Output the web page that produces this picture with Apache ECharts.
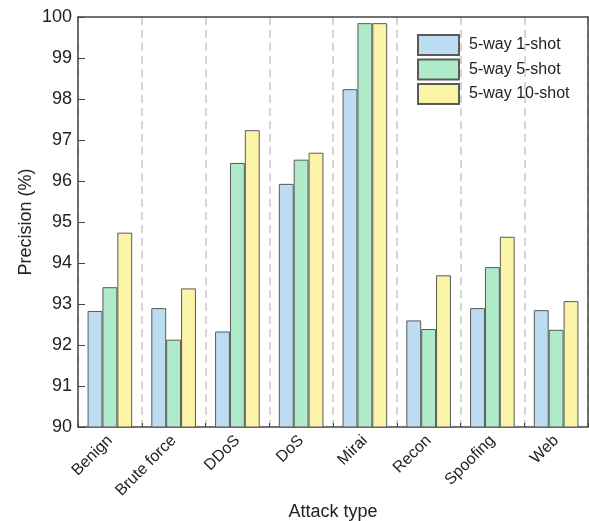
<!DOCTYPE html>
<html><head><meta charset="utf-8">
<script src="https://cdn.jsdelivr.net/npm/echarts@6/dist/echarts.min.js"></script>
<style>html,body{margin:0;padding:0;background:#fff}#c{width:589px;height:521px}</style>
</head><body><div id="c"></div>
<script>
const categories = ['Benign','Brute force','DDoS','DoS','Mirai','Recon','Spoofing','Web'];
const seriesNames = ['5-way 1-shot','5-way 5-shot','5-way 10-shot'];
const oneShot  = [92.83, 92.90, 92.33, 95.93, 98.24, 92.60, 92.90, 92.85];
const fiveShot = [93.41, 92.13, 96.44, 96.52, 99.85, 92.39, 93.90, 92.37];
const tenShot  = [94.74, 93.38, 97.24, 96.69, 99.85, 93.70, 94.64, 93.07];
const yTicks = [90,91,92,93,94,95,96,97,98,99,100];
const colors = ['#bcdcf1','#afeac9','#fbf3a6'];
const values = [oneShot, fiveShot, tenShot];
const font = 'Liberation Sans, Arial, sans-serif';
const chart = echarts.init(document.getElementById('c'));
chart.setOption({
  animation:false,
  textStyle:{fontFamily:font},
  grid:{left:78,right:1,top:17,bottom:94,containLabel:false,outerBoundsMode:'none'},
  legend:{orient:'vertical',left:412,top:29,padding:5,itemWidth:41,itemHeight:20,itemGap:2.5,icon:'rect',
    textStyle:{fontSize:16,color:'#222',fontFamily:font,padding:[0,0,0,5]},data:seriesNames},
  xAxis:[{type:'category',data:categories,
    axisLine:{lineStyle:{color:'#444',width:1.5}},
    axisTick:{show:true,inside:true,length:4,lineStyle:{color:'#444'}},
    axisLabel:{rotate:45,fontSize:16,color:'#222',margin:11,fontFamily:font},
    splitLine:{show:true,lineStyle:{type:[8,5],color:'#c8c8c8',width:1.5}},
    name:'Attack type',nameLocation:'middle',nameGap:76,nameMoveOverlap:false,
    nameTextStyle:{fontSize:18,color:'#222',fontFamily:font}},
   {type:'category',data:categories,position:'top',
    axisLine:{show:true,lineStyle:{color:'#444',width:1.5}},
    axisTick:{show:false},axisLabel:{show:false},splitLine:{show:false}}],
  yAxis:[{type:'value',min:90,max:100,interval:1,
    axisLine:{show:true,lineStyle:{color:'#444',width:1.5}},
    axisTick:{show:true,inside:true,length:7,lineStyle:{color:'#444'}},
    axisLabel:{fontSize:18,color:'#222',margin:6,fontFamily:font,
      formatter:v=>yTicks.includes(v)?String(v):''},
    splitLine:{show:false},
    name:'Precision (%)',nameLocation:'middle',nameGap:43,nameMoveOverlap:false,
    nameTextStyle:{fontSize:18,color:'#222',fontFamily:font}},
   {type:'value',min:90,max:100,interval:1,position:'right',
    axisLine:{show:true,lineStyle:{color:'#444',width:1.5}},
    axisTick:{show:false},axisLabel:{show:false},splitLine:{show:false}}],
  series:seriesNames.map((n,i)=>({
    name:n,type:'bar',data:values[i],barGap:'0%',barCategoryGap:'30%',
    itemStyle:{color:colors[i],borderColor:'#5a5a5a',borderWidth:1}
  }))
});
</script></body></html>
